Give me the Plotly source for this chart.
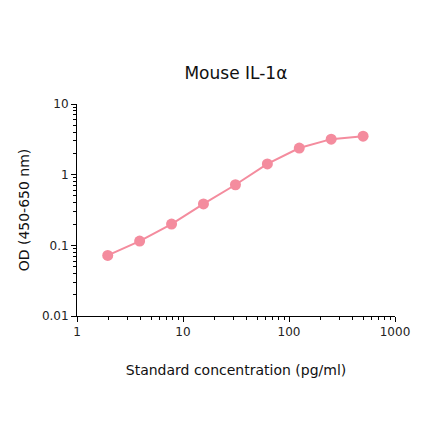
import plotly.graph_objects as go

# standard curve data
concentration = [1.95, 3.9, 7.8, 15.6, 31.25, 62.5, 125, 250, 500]
od = [0.072, 0.115, 0.2, 0.385, 0.72, 1.42, 2.38, 3.18, 3.5]

x_ticks = [1, 10, 100, 1000]
x_tick_labels = ["1", "10", "100", "1000"]
y_ticks = [0.01, 0.1, 1, 10]
y_tick_labels = ["0.01", "0.1", "1", "10"]

pink = "#F48C9E"
font = "DejaVu Sans"

# minor ticks at 2..9 of each decade
x_minor = [m * d for d in (1, 10, 100) for m in range(2, 10)]
y_minor = [m * d for d in (0.01, 0.1, 1) for m in range(2, 10)]

fig = go.Figure()
fig.add_trace(go.Scatter(
    x=concentration, y=od, mode="lines+markers",
    line=dict(color=pink, width=2),
    marker=dict(color=pink, size=11),
    showlegend=False,
))

axis_common = dict(
    type="log", showgrid=False, zeroline=False,
    showline=True, linecolor="black", linewidth=1,
    ticks="outside", ticklen=5, tickwidth=1, tickcolor="black",
    tickfont=dict(family=font, size=12, color="#222"),
)

fig.update_xaxes(
    range=[0, 3], tickvals=x_ticks, ticktext=x_tick_labels,
    minor=dict(tickvals=x_minor, ticks="outside", ticklen=3, tickcolor="black", showgrid=False),
    title=dict(text="Standard concentration (pg/ml)",
               font=dict(family=font, size=14, color="#111"), standoff=26),
    **axis_common,
)
fig.update_yaxes(
    range=[-2, 1], tickvals=y_ticks, ticktext=y_tick_labels,
    minor=dict(tickvals=y_minor, ticks="outside", ticklen=3, tickcolor="black", showgrid=False),
    title=dict(text="OD (450-650 nm)",
               font=dict(family=font, size=14, color="#111"), standoff=8),
    **axis_common,
)

fig.update_layout(
    width=440, height=441,
    margin=dict(l=69, r=53, t=96, b=133),
    plot_bgcolor="white", paper_bgcolor="white",
    title=dict(text="Mouse IL-1α", x=0.518, xanchor="center", y=0.853, yanchor="middle",
               font=dict(family=font, size=17, color="#111")),
)

fig.write_html("out.html")
